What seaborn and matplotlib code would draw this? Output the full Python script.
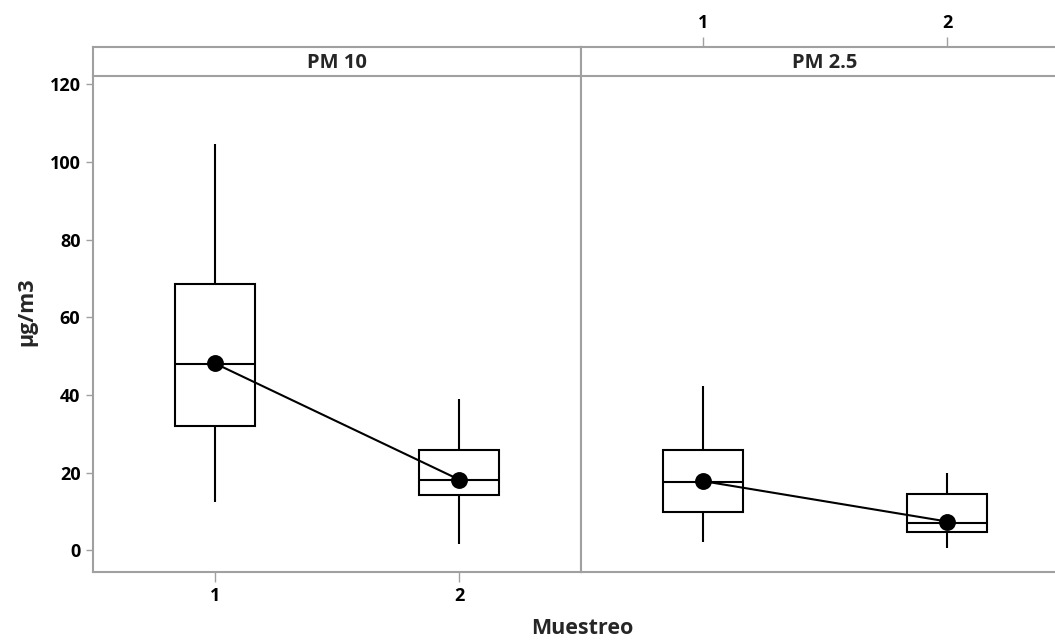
import pandas as pd
import numpy as np
import matplotlib
matplotlib.use('Agg')
import matplotlib.pyplot as plt
import seaborn as sns

# valores (resumen de cinco numeros + media) por muestreo
muestreo = ['1', '2']
pm10_min = [12.5, 1.6]
pm10_q1 = [32.0, 14.1]
pm10_med = [48.0, 18.0]
pm10_q3 = [68.6, 25.7]
pm10_max = [104.5, 39.0]
pm10_media = [48.1, 18.2]

pm25_min = [2.1, 0.7]
pm25_q1 = [9.9, 4.7]
pm25_med = [17.5, 7.1]
pm25_q3 = [25.8, 14.4]
pm25_max = [42.2, 20.0]
pm25_media = [17.8, 7.4]

paneles = ['PM 10', 'PM 2.5']
yticks = [0, 20, 40, 60, 80, 100, 120]


def tabla(mn, q1, med, q3, mx):
    # con 5 valores por grupo los cuartiles del boxplot son exactamente estos
    filas = []
    for i, m in enumerate(muestreo):
        for v in (mn[i], q1[i], med[i], q3[i], mx[i]):
            filas.append({'Muestreo': m, 'valor': v})
    return pd.DataFrame(filas)


datos = [
    (tabla(pm10_min, pm10_q1, pm10_med, pm10_q3, pm10_max), pm10_media),
    (tabla(pm25_min, pm25_q1, pm25_med, pm25_q3, pm25_max), pm25_media),
]

sns.set_style('white')
plt.rcParams['font.family'] = ['Open Sans', 'DejaVu Sans']
plt.rcParams['font.weight'] = 'bold'

gris = '#a0a0a0'
W, H = 1055, 643
fig = plt.figure(figsize=(W / 100, H / 100), dpi=100)

x_izq = [93 / W, 581 / W]
ancho = 488 / W
y0 = 1 - 572 / H
alto = (572 - 76) / H
strip_y = 1 - 76 / H
strip_h = 29 / H

for k, (df, media) in enumerate(datos):
    ax = fig.add_axes([x_izq[k], y0, ancho, alto])
    sns.boxplot(data=df, x='Muestreo', y='valor', order=muestreo, ax=ax,
                whis=(0, 100), width=0.33, color='white', linecolor='black',
                linewidth=1.5, showcaps=False, fliersize=0)
    sns.pointplot(x=muestreo, y=media, ax=ax, color='black', markers='o',
                  markersize=11, linewidth=1.5, errorbar=None)
    ax.set_xlim(-0.5, 1.5)
    ax.set_ylim(-5.6, 122.1)
    ax.set_xlabel('')
    ax.set_ylabel('')
    for s in ax.spines.values():
        s.set_color(gris)
        s.set_linewidth(1.5)
    ax.spines['top'].set_visible(False)
    ax.spines['right'].set_visible(k == 0)
    ax.spines['left'].set_visible(True)
    ax.tick_params(colors=gris, labelcolor='black', length=5, width=1,
                   labelsize=13)
    if k == 0:
        ax.set_yticks(yticks)
        ax.tick_params(axis='x', bottom=True, length=7, pad=4)
        ax.tick_params(axis='y', left=True, pad=4)
    else:
        ax.set_yticks([])
        ax.set_xticks([])

    st = fig.add_axes([x_izq[k], strip_y, ancho, strip_h])
    st.set_xlim(-0.5, 1.5)
    st.set_ylim(0, 1)
    st.set_yticks([])
    for s in st.spines.values():
        s.set_color(gris)
        s.set_linewidth(1.5)
    st.text(0.5, 0.45, paneles[k], ha='center', va='center', fontsize=14.5,
            fontweight='bold', transform=st.transAxes)
    if k == 1:
        st.set_xticks([0, 1])
        st.set_xticklabels(muestreo)
        st.tick_params(axis='x', top=True, bottom=False, labeltop=True,
                       labelbottom=False, colors=gris, labelcolor='black',
                       length=7, width=1, labelsize=13, pad=4)
    else:
        st.set_xticks([])

fig.text(27 / W, 1 - 312 / H, 'µg/m3', rotation=90, ha='center', va='center',
         fontsize=15.5, fontweight='bold')
fig.text(582 / W, 1 - 628 / H, 'Muestreo', ha='center', va='center',
         fontsize=15.5, fontweight='bold')

fig.savefig('out.png', dpi=100)
